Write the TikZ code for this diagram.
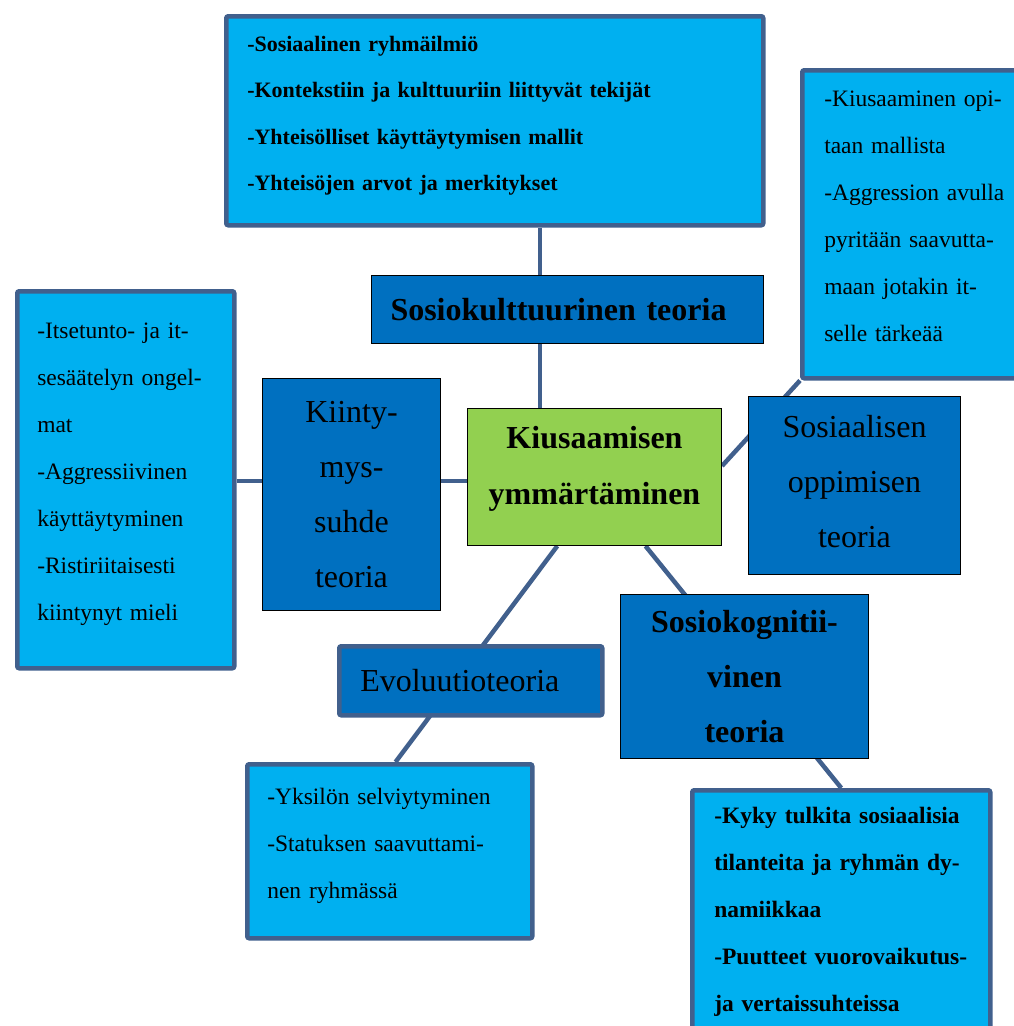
\documentclass[tikz,border=0pt]{standalone}
\usepackage{fontspec}
\setmainfont{Liberation Serif}
\usetikzlibrary{calc,backgrounds}
\definecolor{lightbox}{HTML}{00B0F0}
\definecolor{darkbox}{HTML}{0070C0}
\definecolor{centrebox}{HTML}{92D050}
\definecolor{edge}{HTML}{41608D}
\newcommand{\jline}[1]{\makebox[\linewidth][s]{#1}}
\begin{document}
\begin{tikzpicture}[x=1pt,y=-1pt,
  info/.style={draw=edge, line width=4.5pt, fill=lightbox, rounded corners=2pt,
    anchor=north west, align=left, inner ysep=0pt,
    font=\fontsize{23.5}{47}\selectfont},
  theory/.style={draw=black, line width=1pt, fill=darkbox, anchor=north west,
    align=center, inner sep=0pt, font=\fontsize{32}{55}\selectfont},
  % extra depth below the last line moves the text block up
  lift/.style={execute at end node={\rule[-#1]{0pt}{0pt}}},
  link/.style={draw=edge, line width=4.5pt}]
\clip (0,0) rectangle (1014,1026);

% central topic
\node[theory, fill=centrebox, minimum width=254pt, minimum height=137pt, lift=23pt,
  font=\fontsize{32}{56}\selectfont\bfseries] (centre) at (467,408)
  {Kiusaamisen\\ymmärtäminen};

% theories
\node[theory, align=left, text width=354pt, inner xsep=19pt,
  minimum height=68pt, font=\fontsize{32}{55}\selectfont\bfseries]
  (socio) at (371,275) {Sosiokulttuurinen teoria};
\node[theory, minimum width=178pt, minimum height=232pt] (attach) at (262,378)
  {Kiinty-\\mys-\\suhde\\teoria};
\node[theory, minimum width=212pt, minimum height=178pt, lift=8pt] (learn) at (748,396)
  {Sosiaalisen\\oppimisen\\teoria};
\node[theory, minimum width=248pt, minimum height=164pt,
  font=\fontsize{32}{55}\selectfont\bfseries] (cogn) at (620,594)
  {Sosiokognitii-\\vinen\\teoria};
\node[theory, draw=edge, line width=4.5pt, rounded corners=2pt, align=left,
  text width=221pt, inner xsep=21pt, minimum height=69pt] (evo) at (337,644)
  {Evoluutioteoria};

% descriptions
\node[info, text width=495pt, inner xsep=21pt, minimum height=209pt, lift=15pt,
  font=\fontsize{22}{46.5}\selectfont\bfseries] (topinfo) at (224,14)
  {-Sosiaalinen ryhmäilmiö\\
   -Kontekstiin ja kulttuuriin liittyvät tekijät\\
   -Yhteisölliset käyttäytymisen mallit\\
   -Yhteisöjen arvot ja merkitykset};
\node[info, text width=181pt, inner xsep=22pt, minimum height=308pt, lift=16pt] (rinfo) at (800,68)
  {\jline{-Kiusaaminen opi-}\\
   taan mallista\\
   \jline{-Aggression avulla}\\
   \jline{pyritään saavutta-}\\
   \jline{maan jotakin it-}\\
   selle tärkeää};
\node[info, text width=177pt, inner xsep=20pt, minimum height=377pt, lift=17pt] (linfo) at (15,289)
  {-Itsetunto- ja it-\\
   sesäätelyn ongel-\\
   mat\\
   -Aggressiivinen\\
   käyttäytyminen\\
   -Ristiriitaisesti\\
   kiintynyt mieli};
\node[info, text width=245pt, inner xsep=20pt, minimum height=174pt, lift=15pt] (blinfo) at (245,762)
  {-Yksilön selviytyminen\\
   -Statuksen saavuttami-\\
   nen ryhmässä};
\node[info, text width=254pt, inner xsep=22pt, minimum height=244pt,
  font=\fontsize{23.5}{47}\selectfont\bfseries] (brinfo) at (690,788)
  {-Kyky tulkita sosiaalisia\\
   tilanteita ja ryhmän dy-\\
   namiikkaa\\
   -Puutteet vuorovaikutus-\\
   ja vertaissuhteissa};

% connectors
\coordinate (spine) at (540,0);
\coordinate (row) at (0,481);
\begin{scope}[on background layer]
  \draw[link] (topinfo.south -| spine) -- (centre.north -| spine);
  \draw[link] (linfo.east |- row) -- (centre.west |- row);
  \draw[link] ($(centre.north east)!0.42!(centre.south east)$) -- (rinfo.south west);
  \draw[link] ($(centre.south west)!0.70!(centre.south east)$) -- (brinfo.north);
  \draw[link] ($(centre.south west)!0.354!(centre.south east)$) -- ($(blinfo.north west)!0.52!(blinfo.north east)$);
\end{scope}
\end{tikzpicture}
\end{document}
